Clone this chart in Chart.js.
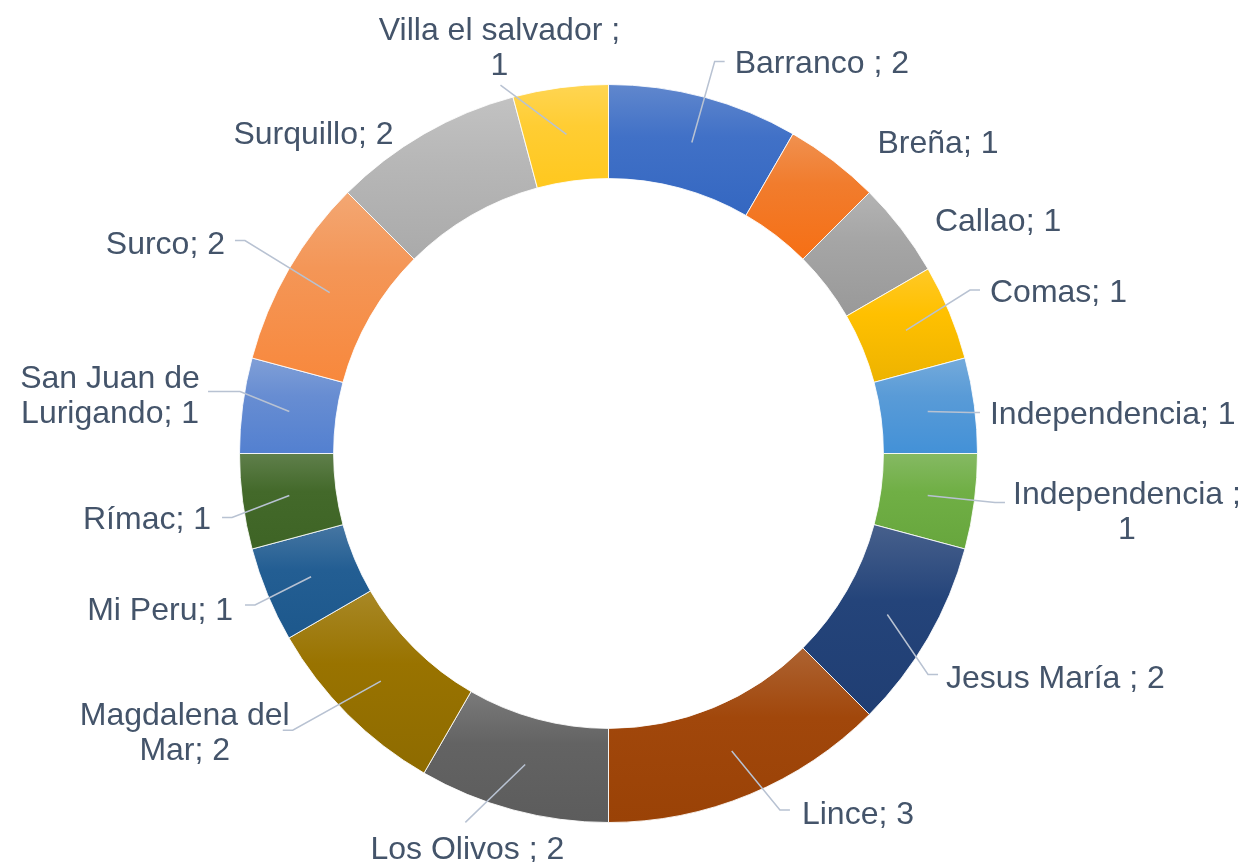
<!DOCTYPE html>
<html>
<head>
<meta charset="utf-8">
<script src="https://cdn.jsdelivr.net/npm/chart.js@4.4.0/dist/chart.umd.min.js"></script>
<style>
  html, body { margin: 0; padding: 0; background: #fff; }
  #wrap { width: 1247px; height: 862px; position: relative; }
</style>
</head>
<body>
<div id="wrap"><canvas id="donut"></canvas></div>
<script>
// data (24 in total, 15 degrees per unit)
const districts = ['Barranco ', 'Breña', 'Callao', 'Comas', 'Independencia', 'Independencia ', 'Jesus María ', 'Lince',
    'Los Olivos ', 'Magdalena del Mar', 'Mi Peru', 'Rímac', 'San Juan de Lurigando', 'Surco', 'Surquillo', 'Villa el salvador '];
const counts = [2, 1, 1, 1, 1, 1, 2, 3, 2, 2, 1, 1, 1, 2, 2, 1];

const sliceColors = ['#4472C4', '#ED7D31', '#A5A5A5', '#FFC000', '#5B9BD5', '#70AD47', '#264478', '#9E480E',
    '#636363', '#997300', '#255E91', '#43682B', '#698ED0', '#F1975A', '#B7B7B7', '#FFCD33'];

const OUTER_R = 369;
const CUTOUT = 0.745;
const LABEL_GAP = 45;
const LINE_H = 35;
const TEXT_DY = 3;
const TEXT_COLOR = '#44546A';
const LEADER_COLOR = '#B8C2D2';

// label placement relative to the point LABEL_GAP outside the slice middle
// leader: [elbow dx, elbow dy, horizontal tail]
const labelLayout = [
    { align: 'left', dx: 19, dy: 8, leader: [-1, 8, 10] },
    { align: 'left', dx: 17, dy: 16 },
    { align: 'left', dx: -2, dy: 18 },
    { align: 'left', dx: -1, dy: -5, leader: [-21, -5, 10] },
    { align: 'left', dx: -29, dy: 13, leader: [-49, 13, 10] },
    { align: 'center', dx: 108, dy: -15, leader: [-24, -5, 10], wrap: 238 },
    { align: 'left', dx: -21, dy: 16, leader: [-39, 14, 10] },
    { align: 'left', dx: 35, dy: -24, leader: [13, -26, 10] },
    { align: 'center', dx: -34, dy: -6, leader: [-36, -31, 0] },
    { align: 'center', dx: -131, dy: -33, leader: [-23, -16, -10], wrap: 222 },
    { align: 'right', dx: 7, dy: -4, leader: [29, -7, -10] },
    { align: 'right', dx: 13, dy: 10, leader: [34, 10, -10] },
    { align: 'center', dx: -88, dy: -23, leader: [42, -8, -32], wrap: 192 },
    { align: 'right', dx: -25, dy: -4, leader: [-5, -6, -10] },
    { align: 'right', dx: -8, dy: 37 },
    { align: 'center', dx: -55, dy: -15, leader: [-54, 42, 0], wrap: 252 }
];

function toRgb(hex) {
    const n = parseInt(hex.slice(1), 16);
    return [(n >> 16) & 255, (n >> 8) & 255, n & 255];
}

function rgbStr(c) {
    return `rgb(${c.map(v => Math.max(0, Math.min(255, Math.round(v)))).join(', ')})`;
}

// scale saturation and lightness of a colour (hsl space)
function adjust(hex, satMod, lumMod) {
    let [r, g, b] = toRgb(hex).map(v => v / 255);
    const max = Math.max(r, g, b), min = Math.min(r, g, b);
    let h = 0, s = 0, l = (max + min) / 2;
    if (max !== min) {
        const d = max - min;
        s = l > 0.5 ? d / (2 - max - min) : d / (max + min);
        if (max === r) h = (g - b) / d + (g < b ? 6 : 0);
        else if (max === g) h = (b - r) / d + 2;
        else h = (r - g) / d + 4;
        h /= 6;
    }
    s = Math.min(1, s * satMod);
    l = Math.min(1, l * lumMod);
    const q = l < 0.5 ? l * (1 + s) : l + s - l * s, p = 2 * l - q;
    const hue = t => {
        if (t < 0) t += 1;
        if (t > 1) t -= 1;
        if (t < 1 / 6) return p + (q - p) * 6 * t;
        if (t < 1 / 2) return q;
        if (t < 2 / 3) return p + (q - p) * (2 / 3 - t) * 6;
        return p;
    };
    return rgbStr([hue(h + 1 / 3) * 255, hue(h) * 255, hue(h - 1 / 3) * 255]);
}

function tint(hex, t) {
    return rgbStr(toRgb(hex).map(v => v + (255 - v) * t));
}

// vertical gradient across each slice, lighter at the top
function sliceFill(c) {
    const base = sliceColors[c.dataIndex % sliceColors.length];
    const area = c.chart.chartArea;
    if (c.type !== 'data' || !area) return base;
    const total = counts.reduce((a, b) => a + b, 0);
    let start = -Math.PI / 2;
    for (let k = 0; k < c.dataIndex; k++) start += counts[k] / total * Math.PI * 2;
    const end = start + counts[c.dataIndex] / total * Math.PI * 2;
    const cy = (area.top + area.bottom) / 2;
    let yMin = Infinity, yMax = -Infinity;
    for (let s = 0; s <= 30; s++) {
        const a = start + (end - start) * s / 30;
        for (const r of [OUTER_R * CUTOUT, OUTER_R]) {
            const y = cy + Math.sin(a) * r;
            yMin = Math.min(yMin, y); yMax = Math.max(yMax, y);
        }
    }
    const g = c.chart.ctx.createLinearGradient(0, yMin, 0, yMax);
    g.addColorStop(0, tint(base, 0.15));
    g.addColorStop(0.4, adjust(base, 1.04, 1.0));
    g.addColorStop(1, adjust(base, 1.1, 0.93));
    return g;
}

function wrapText(ctx, text, maxW) {
    if (!maxW) return [text];
    const words = text.split(' ').filter(w => w.length);
    const lines = [];
    let cur = '';
    words.forEach(w => {
        const test = cur ? cur + ' ' + w : w;
        if (cur && ctx.measureText(test).width > maxW) { lines.push(cur); cur = w; }
        else cur = test;
    });
    if (cur) lines.push(cur);
    return lines;
}

const sliceLabels = {
    id: 'sliceLabels',
    afterDatasetsDraw(chart) {
        const ctx = chart.ctx;
        const arcs = chart.getDatasetMeta(0).data;
        ctx.save();
        ctx.font = '32px "Liberation Sans", Arial, sans-serif';
        ctx.textBaseline = 'middle';
        ctx.strokeStyle = LEADER_COLOR;
        ctx.lineWidth = 1.5;
        ctx.fillStyle = TEXT_COLOR;
        arcs.forEach((arc, i) => {
            const p = arc.getProps(['x', 'y', 'startAngle', 'endAngle', 'innerRadius', 'outerRadius']);
            const mid = (p.startAngle + p.endAngle) / 2;
            const rMid = (p.innerRadius + p.outerRadius) / 2;
            const ax = p.x + Math.cos(mid) * rMid, ay = p.y + Math.sin(mid) * rMid;
            const rl = p.outerRadius + LABEL_GAP;
            const px = p.x + Math.cos(mid) * rl, py = p.y + Math.sin(mid) * rl;
            const L = labelLayout[i];
            if (L.leader) {
                const [ex, ey, tail] = L.leader;
                ctx.beginPath();
                ctx.moveTo(ax, ay);
                ctx.lineTo(px + ex, py + ey);
                if (tail) ctx.lineTo(px + ex + tail, py + ey);
                ctx.stroke();
            }
            const text = districts[i] + '; ' + counts[i];
            const lines = wrapText(ctx, text, L.wrap);
            ctx.textAlign = L.align;
            lines.forEach((ln, k) => ctx.fillText(ln, px + L.dx, py + L.dy + TEXT_DY + k * LINE_H));
        });
        ctx.restore();
    }
};

new Chart(document.getElementById('donut').getContext('2d'), {
    type: 'doughnut',
    data: {
        labels: districts,
        datasets: [{
            data: counts,
            backgroundColor: sliceFill,
            borderColor: 'rgba(255,255,255,0.85)',
            borderWidth: 1
        }]
    },
    options: {
        responsive: true, maintainAspectRatio: false, animation: false,
        radius: OUTER_R, cutout: (CUTOUT * 100) + '%',
        layout: { padding: { left: 0, right: 30, top: 45, bottom: 0 } },
        plugins: { legend: { display: false }, tooltip: { enabled: false } }
    },
    plugins: [sliceLabels]
});
</script>
</body>
</html>
